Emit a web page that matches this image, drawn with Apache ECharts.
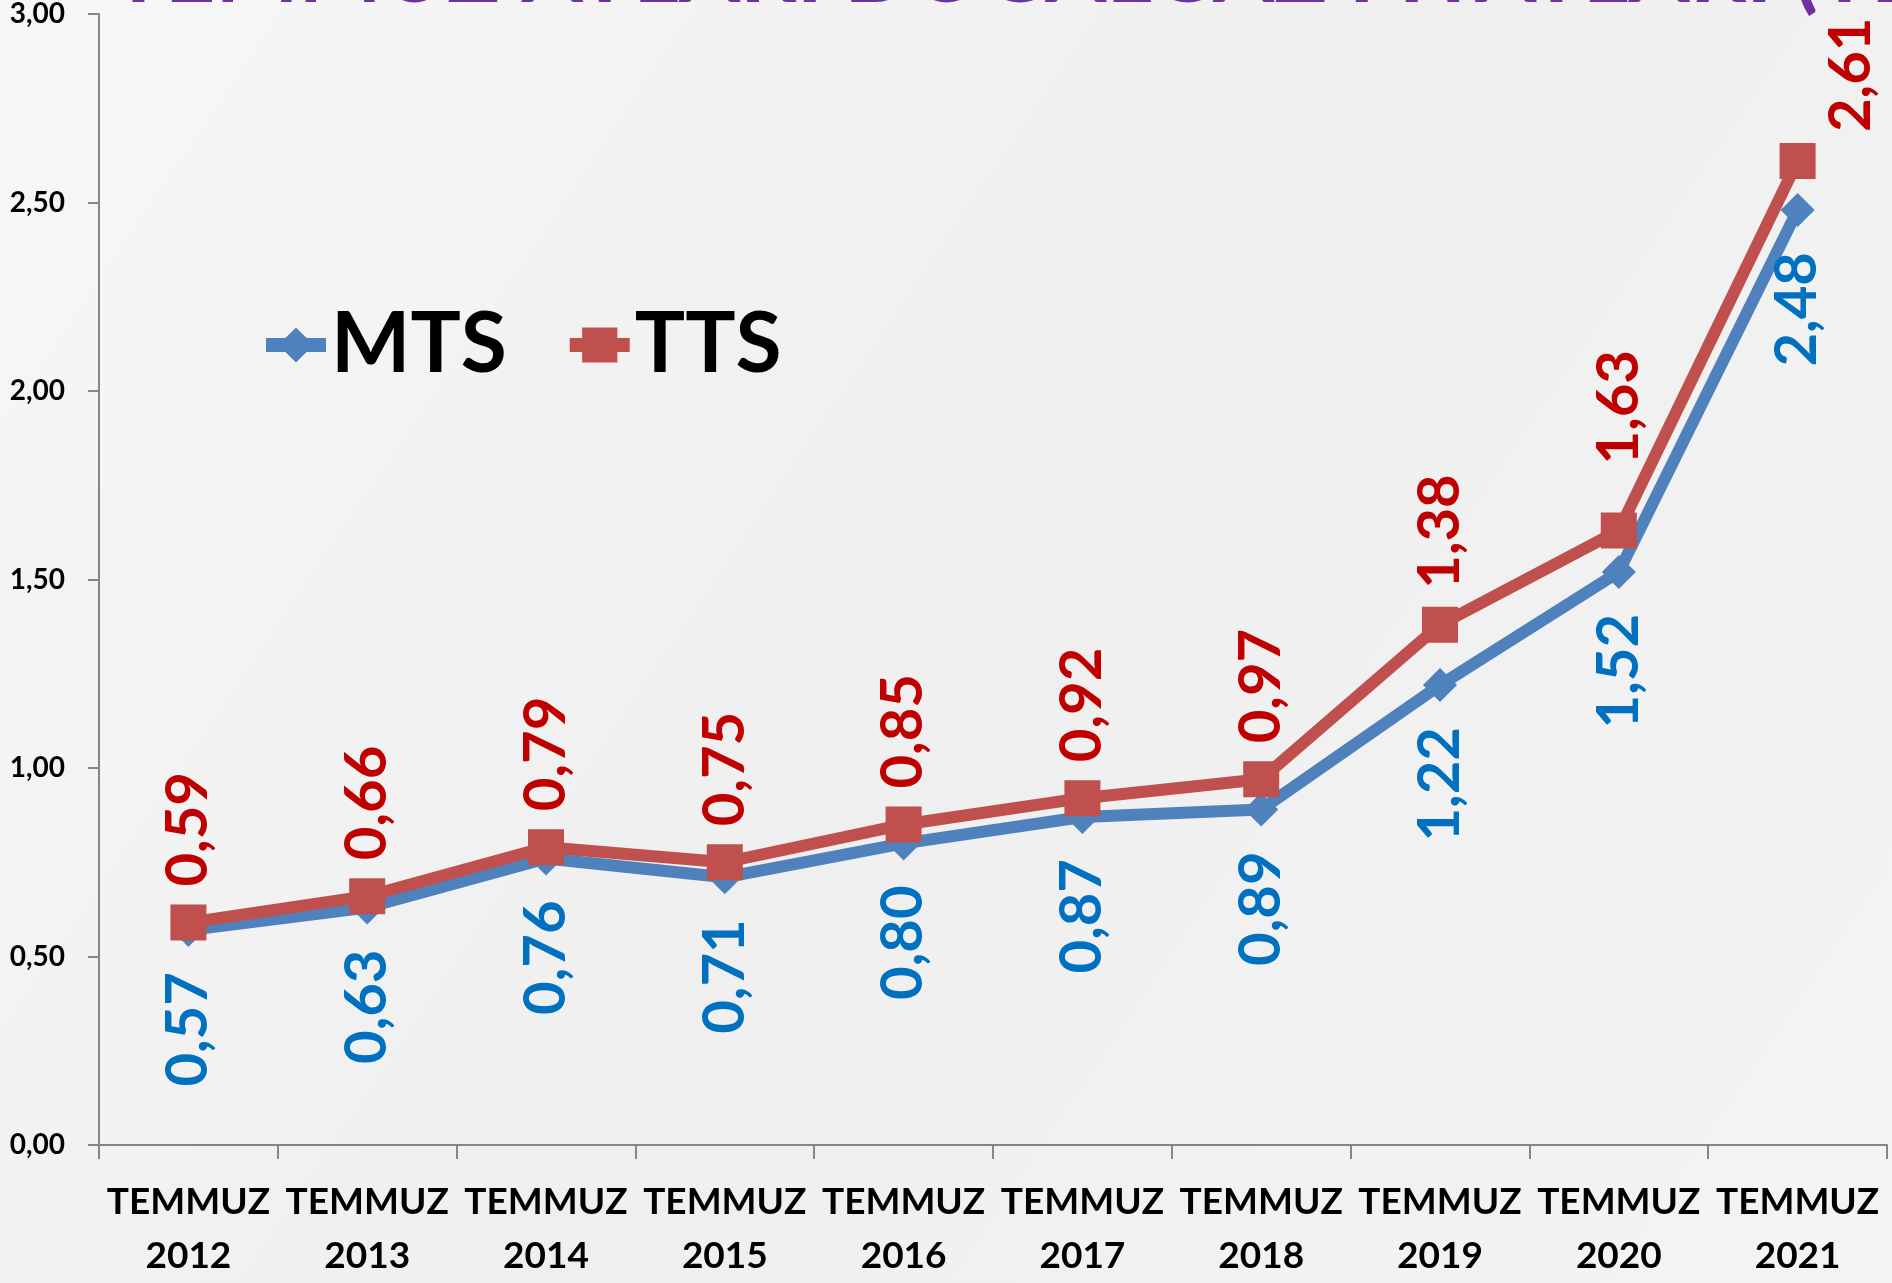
<!DOCTYPE html>
<html>
<head>
<meta charset="utf-8">
<script src="https://cdn.jsdelivr.net/npm/echarts@6/dist/echarts.min.js"></script>
<style>
  html, body { margin: 0; padding: 0; }
  #chart { width: 1892px; height: 1283px; }
</style>
</head>
<body>
<div id="chart"></div>
<script>
// veriler
const years = ['2012', '2013', '2014', '2015', '2016', '2017', '2018', '2019', '2020', '2021'];
const mtsValues = [0.57, 0.63, 0.76, 0.71, 0.80, 0.87, 0.89, 1.22, 1.52, 2.48];
const ttsValues = [0.59, 0.66, 0.79, 0.75, 0.85, 0.92, 0.97, 1.38, 1.63, 2.61];
const yTicks = [0, 0.5, 1, 1.5, 2, 2.5, 3];

const FONT = 'Lato';
const fmt = v => v.toFixed(2).replace('.', ',');

const chart = echarts.init(document.getElementById('chart'));

// son iki TTS etiketi Excel'de kaydırılmış (offset döndürülmüş eksende)
const ttsData = ttsValues.map((v, i) => {
  if (i === 9) return { value: v, label: { offset: [-7, 54] } };
  if (i === 8) return { value: v, label: { offset: [30, 0] } };
  return v;
});

const option = {
  backgroundColor: new echarts.graphic.LinearGradient(0, 0, 1, 1, [
    { offset: 0, color: '#f7f7f7' },
    { offset: 0.5, color: '#efefef' },
    { offset: 1, color: '#f4f4f4' }
  ]),
  graphic: [
    {
      type: 'text',
      left: 112,
      top: -70,
      style: {
        text: 'TEMMUZ AYLARI DOĞALGAZ FİYATLARI (TL)',
        font: 'bold 88px ' + FONT,
        fill: '#7030A0'
      }
    }
  ],
  legend: {
    left: 254,
    top: 298,
    itemWidth: 60,
    itemHeight: 44,
    itemGap: 56,
    lineStyle: { width: 14 },
    textStyle: {
      fontFamily: FONT,
      fontWeight: 'bold',
      fontSize: 84,
      color: '#000'
    },
    data: ['MTS', 'TTS']
  },
  grid: {
    left: 99,
    right: 5,
    top: 14,
    bottom: 135
  },
  xAxis: {
    type: 'category',
    data: years,
    boundaryGap: true,
    axisLine: { lineStyle: { color: '#868686', width: 2 } },
    axisTick: { show: true, interval: 0, length: 14, lineStyle: { color: '#868686', width: 2 } },
    axisLabel: {
      interval: 0,
      margin: 30,
      fontFamily: FONT,
      fontWeight: 'bold',
      fontSize: 37,
      lineHeight: 54,
      color: '#000',
      formatter: y => 'TEMMUZ\n' + y
    }
  },
  yAxis: {
    type: 'value',
    min: 0,
    max: 3,
    interval: 0.5,
    splitLine: { show: false },
    axisLine: { show: true, lineStyle: { color: '#868686', width: 2 } },
    axisTick: { show: true, length: 11, lineStyle: { color: '#868686', width: 2 } },
    axisLabel: {
      margin: 34,
      fontFamily: FONT,
      fontWeight: 'bold',
      fontSize: 28,
      color: '#000',
      formatter: v => fmt(v)
    }
  },
  series: [
    {
      name: 'MTS',
      type: 'line',
      data: mtsValues,
      symbol: 'diamond',
      symbolSize: 34,
      lineStyle: { color: '#4F81BD', width: 12 },
      itemStyle: { color: '#4F81BD' },
      label: {
        show: true,
        position: 'bottom',
        distance: 25,
        rotate: 90,
        align: 'right',
        verticalAlign: 'middle',
        fontFamily: FONT,
        fontWeight: 'bold',
        fontSize: 58,
        color: '#0070C0',
        formatter: p => fmt(p.value)
      },
      z: 2
    },
    {
      name: 'TTS',
      type: 'line',
      data: ttsData,
      symbol: 'rect',
      symbolSize: 36,
      lineStyle: { color: '#C0504D', width: 12 },
      itemStyle: { color: '#C0504D' },
      label: {
        show: true,
        position: 'top',
        distance: 18,
        rotate: 90,
        align: 'left',
        verticalAlign: 'middle',
        fontFamily: FONT,
        fontWeight: 'bold',
        fontSize: 58,
        color: '#C00000',
        formatter: p => fmt(p.value)
      },
      z: 3
    }
  ]
};

chart.setOption(option);
</script>
</body>
</html>
